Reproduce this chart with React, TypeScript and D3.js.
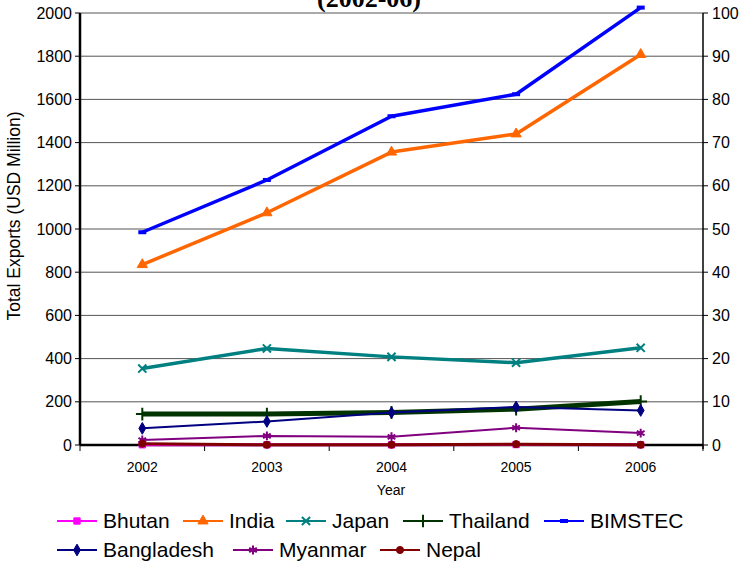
import React from "react";
import * as d3 from "d3";

const years = ["2002", "2003", "2004", "2005", "2006"];
const bhutan = [1, 1, 1, 2, 1];
const india = [835, 1075, 1356, 1440, 1808];
const japan = [354, 447, 408, 381, 450];
const thailand = [143, 143, 151, 166, 201];
const bimstec = [985, 1227, 1522, 1624, 2025];
const bangladesh = [77, 109, 150, 176, 160];
const myanmar = [23, 42, 38, 80, 55];
const nepal = [6, 1, 1, 4, 1];
const leftTicks = [0, 200, 400, 600, 800, 1000, 1200, 1400, 1600, 1800, 2000];
const rightTicks = [0, 10, 20, 30, 40, 50, 60, 70, 80, 90, 100];

type S = { name: string; values: number[]; color: string; width: number; marker: string; size: number };
const series: S[] = [
  { name: "Bhutan", values: bhutan, color: "#FF00FF", width: 3, marker: "square", size: 40 },
  { name: "India", values: india, color: "#FF6600", width: 3.5, marker: "triangle", size: 45 },
  { name: "Japan", values: japan, color: "#008080", width: 3.5, marker: "times", size: 45 },
  { name: "Thailand", values: thailand, color: "#003300", width: 5, marker: "plus", size: 55 },
  { name: "BIMSTEC", values: bimstec, color: "#0000FF", width: 3.5, marker: "dash", size: 30 },
  { name: "Bangladesh", values: bangladesh, color: "#000080", width: 2, marker: "diamond", size: 40 },
  { name: "Myanmar", values: myanmar, color: "#800080", width: 2, marker: "asterisk", size: 55 },
  { name: "Nepal", values: nepal, color: "#800000", width: 3, marker: "circle", size: 40 },
];

const legendPos: Record<string, [number, number]> = {
  Bhutan: [57, 521],
  India: [183, 521],
  Japan: [286, 521],
  Thailand: [403, 521],
  BIMSTEC: [544, 521],
  Bangladesh: [57, 550],
  Myanmar: [233, 550],
  Nepal: [380, 550],
};

const left = 80, right = 703, top = 13, bottom = 445;
const font = "'Liberation Sans', Arial, sans-serif";

function Marker({ kind, x, y, color, size }: { kind: string; x: number; y: number; color: string; size: number }) {
  const t = `translate(${x},${y})`;
  const sym: Record<string, any> = {
    square: d3.symbolSquare,
    triangle: d3.symbolTriangle,
    diamond: d3.symbolDiamond,
    circle: d3.symbolCircle,
  };
  if (kind === "dash") {
    return <rect x={x - 4} y={y - 2} width={8} height={4} fill={color} />;
  }
  if (sym[kind]) {
    const p = d3.symbol().type(sym[kind]).size(size)() as string;
    return <path d={p} transform={t} fill={color} stroke={color} strokeWidth={1} />;
  }
  const stype: Record<string, any> = {
    times: d3.symbolTimes,
    plus: d3.symbolPlus,
    asterisk: d3.symbolAsterisk,
  };
  const p = d3.symbol().type(stype[kind]).size(size)() as string;
  return <path d={p} transform={t} fill="none" stroke={color} strokeWidth={2} />;
}

export default function App() {
  const x = d3.scaleBand<string>().domain(years).range([left, right]);
  const y = d3.scaleLinear().domain([0, 2000]).range([bottom, top]);
  const y2 = d3.scaleLinear().domain([0, 100]).range([bottom, top]);
  const cx = (yr: string) => (x(yr) as number) + x.bandwidth() / 2;
  const line = d3
    .line<number>()
    .x((_, i) => cx(years[i]))
    .y((d) => y(d));
  const bounds = [...years.map((yr) => x(yr) as number), right];

  return (
    <svg width={744} height={564} style={{ position: "absolute", left: 0, top: 0, background: "#fff" }}>
      <rect x={0} y={0} width={744} height={564} fill="#fff" />
      <text x={369} y={7} textAnchor="middle" fontFamily="'Liberation Serif', 'Times New Roman', serif" fontWeight="bold" fontSize={26}>
        (2002-06)
      </text>
      {leftTicks.slice(1).map((t) => (
        <line key={"g" + t} x1={left} x2={right} y1={y(t)} y2={y(t)} stroke="#555" strokeWidth={1} />
      ))}
      {/* left axis */}
      <line x1={left} x2={left} y1={top} y2={bottom} stroke="#000" strokeWidth={2.5} />
      {leftTicks.map((t) => (
        <g key={"l" + t}>
          <line x1={left - 5} x2={left} y1={y(t)} y2={y(t)} stroke="#000" strokeWidth={1} />
          <text x={72} y={y(t)} dy="0.35em" textAnchor="end" fontFamily={font} fontSize={16}>
            {t}
          </text>
        </g>
      ))}
      {/* right axis */}
      <line x1={right} x2={right} y1={top} y2={bottom + 4} stroke="#000" strokeWidth={1.5} />
      {rightTicks.map((t) => (
        <g key={"r" + t}>
          <line x1={right} x2={right + 5} y1={y2(t)} y2={y2(t)} stroke="#000" strokeWidth={1} />
          <text x={712} y={y2(t)} dy="0.35em" textAnchor="start" fontFamily={font} fontSize={16}>
            {t}
          </text>
        </g>
      ))}
      {/* x axis */}
      <line x1={left} x2={right} y1={bottom} y2={bottom} stroke="#000" strokeWidth={2.5} />
      {bounds.map((b, i) => (
        <line key={"xt" + i} x1={b} x2={b} y1={bottom} y2={bottom + 6} stroke="#000" strokeWidth={1} />
      ))}
      {years.map((yr) => (
        <text key={"xl" + yr} x={cx(yr)} y={472} textAnchor="middle" fontFamily={font} fontSize={14}>
          {yr}
        </text>
      ))}
      <text x={391} y={495} textAnchor="middle" fontFamily={font} fontSize={14}>
        Year
      </text>
      <text transform={`translate(20,216) rotate(-90)`} textAnchor="middle" fontFamily={font} fontSize={17.5}>
        Total Exports (USD Million)
      </text>
      {series.map((s) => (
        <g key={s.name}>
          <path d={line(s.values) as string} fill="none" stroke={s.color} strokeWidth={s.width} strokeLinejoin="round" />
          {s.values.map((v, i) => (
            <Marker key={i} kind={s.marker} x={cx(years[i])} y={y(v)} color={s.color} size={s.size} />
          ))}
        </g>
      ))}
      {series.map((s) => {
        const [lx, ly] = legendPos[s.name];
        return (
          <g key={"lg" + s.name}>
            <line x1={lx} x2={lx + 40} y1={ly} y2={ly} stroke={s.color} strokeWidth={2} />
            <Marker kind={s.marker} x={lx + 20} y={ly} color={s.color} size={s.size} />
            <text x={lx + 46} y={ly} dy="0.35em" fontFamily={font} fontSize={21}>
              {s.name}
            </text>
          </g>
        );
      })}
    </svg>
  );
}
